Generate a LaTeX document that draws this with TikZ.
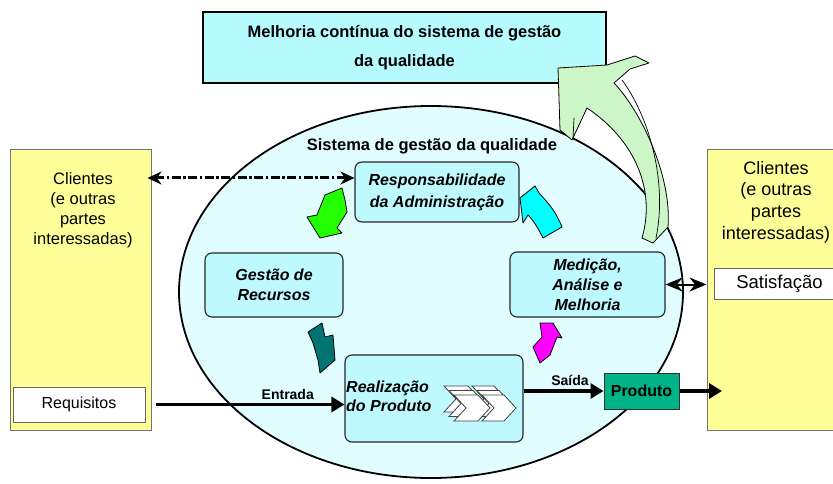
\documentclass[tikz,border=0pt]{standalone}
\usepackage{fontspec}
\setmainfont{Liberation Sans}
\usetikzlibrary{arrows.meta,shapes.geometric}
\definecolor{topcyan}{HTML}{B6FCFF}
\definecolor{ellcyan}{HTML}{E2FDFF}
\definecolor{boxcyan}{HTML}{BDF9FF}
\definecolor{yel}{HTML}{FFFF99}
\definecolor{prodgreen}{HTML}{00B386}
\definecolor{bigarrow}{HTML}{CCF5C8}
\definecolor{agreen}{HTML}{22FF00}
\definecolor{acyan}{HTML}{00FFFF}
\definecolor{ateal}{HTML}{007373}
\definecolor{amag}{HTML}{FF00FF}
\newcommand\myfs[2]{\fontsize{#1}{#2}\selectfont}
\begin{document}
\begin{tikzpicture}[x=1pt,y=-1pt,
  rbox/.style={draw=black!85, line width=1.1pt, rounded corners=7pt, fill=boxcyan, inner sep=0pt, align=center, font=\myfs{16}{20}\bfseries\itshape},
  ybox/.style={draw=black!55, line width=1pt, fill=yel, inner sep=0pt},
  wbox/.style={draw=black!60, line width=1pt, fill=white, inner sep=0pt, font=\myfs{16}{19}},
  flow/.style={line width=3.5pt, -{Triangle[length=13pt,width=15pt]}},
  blockarrow/.style={draw=black, line width=0.8pt, line join=round},
  lbl/.style={font=\myfs{14}{16}\bfseries, inner sep=2pt}]
\clip (0,0) rectangle (833,484);
\fill[white] (0,0) rectangle (833,484);

% top box
\node[draw, line width=1.8pt, fill=topcyan, minimum width=403pt, minimum height=71pt, inner sep=0pt, align=center, font=\myfs{16.5}{29}\bfseries] (mel) at (404.5,47.5) {Melhoria contínua do sistema de gestão\\da qualidade};

% ellipse
\node[ellipse, draw, line width=1.8pt, fill=ellcyan, minimum width=504pt, minimum height=372pt, inner sep=0pt] (sgq) at (431,292) {};
\node[font=\myfs{16.5}{19}\bfseries, inner sep=0pt] (sgqt) at (432,146) {Sistema de gestão da qualidade};

% big light green arrow
\path[blockarrow, fill=bigarrow] (558,68) -- (607,65) -- (635,56) -- (649,63) -- (630,69) -- (614,83)
  .. controls (640,110) and (672,175) .. (668,227) -- (653,243) -- (642,238)
  .. controls (656,190) and (635,140) .. (587,108) -- (572,140) -- (560,130) -- cycle;
\draw[line width=0.7pt] (622,80) .. controls (648,115) and (668,180) .. (656,238);
\draw[line width=0.7pt] (574,118) -- (573,139);

% left clients
\node[ybox, minimum width=141pt, minimum height=280pt] (cl) at (80.5,290) {};
\node[font=\myfs{16.5}{20}, align=center, inner sep=0pt] (clt) at (83,210) {Clientes\\(e outras\\partes\\interessadas)};
\node[wbox, minimum width=132pt, minimum height=35pt] (req) at (79,404.5) {Requisitos};

% right clients
\node[ybox, minimum width=140pt, minimum height=280pt] (cr) at (777,290) {};
\node[font=\myfs{18}{21.7}, align=center, inner sep=0pt] (crt) at (776,202) {Clientes\\(e outras\\partes\\interessadas)};
\node[wbox, minimum width=131pt, minimum height=31pt, font=\myfs{18.5}{20}] (sat) at (779.5,283.5) {Satisfação};

% process boxes
\node[rbox, minimum width=164pt, minimum height=60pt, font=\myfs{16}{22}\bfseries\itshape] (resp) at (437,192) {Responsabilidade\\da Administração};
\node[rbox, minimum width=138pt, minimum height=64pt] (gest) at (274,285) {Gestão de\\Recursos};
\node[rbox, minimum width=155pt, minimum height=65pt] (med) at (587.5,284.5) {Medição,\\Análise e\\Melhoria};
\node[rbox, minimum width=178pt, minimum height=87pt] (real) at (434,398.5) {};
\node[anchor=west, align=left, inner sep=0pt, font=\myfs{16}{19}\bfseries\itshape] (realt) at (346,396) {Realização\\do Produto};
\node[draw=black!80, line width=1pt, fill=prodgreen, minimum width=75pt, minimum height=36pt, inner sep=0pt, font=\myfs{16}{19}\bfseries] (prod) at (641.5,391) {Produto};

% chevrons
\foreach \d in {0,5,10} {
  \begin{scope}[shift={(\d,0.9*\d)}]
    \draw[fill=white, draw=black!75, line width=0.8pt] (444,386) -- (468,386) -- (480,399) -- (468,412) -- (444,412) -- (456,399) -- cycle;
    \draw[fill=white, draw=black!75, line width=0.8pt] (472,386) -- (494,386) -- (506,399) -- (494,412) -- (472,412) -- (484,399) -- cycle;
  \end{scope}
}

% small curved arrows
\path[blockarrow, fill=agreen] (325,195) -- (342,188) -- (345,200) -- (347,212) -- (342,220) -- (337,228) -- (342,233) -- (320,238) -- (307,217) -- (317,215) -- cycle;
\path[blockarrow, fill=acyan] (535,186) -- (539,193) .. controls (550,205) and (556,212) .. (562,227) -- (543,238) .. controls (538,228) and (533,220) .. (528,215) -- (523,223) -- (520,198) -- cycle;
\path[blockarrow, fill=ateal] (308,332) -- (322,323) -- (325,337) -- (333,335) -- (335,360) -- (320,373) -- (318,360) -- (313,343) -- cycle;
\path[blockarrow, fill=amag] (540,323) -- (553,323) -- (562,338) -- (557,337) -- (550,355) -- (540,363) -- (533,347) -- (542,337) -- cycle;

% connectors
\draw[flow] ([xshift=10pt]req.east) -- (real.west |- req.east) node[lbl, pos=0.7, above=1.5pt] (ent) {Entrada};
\draw[flow] (real.east |- prod.west) -- (prod.west) node[lbl, pos=0.58, above=1.5pt] (sai) {Saída};
\coordinate (crin) at (722,391);
\draw[flow] (prod.east) -- (crin);
\draw[line width=3pt, dash pattern=on 9pt off 2.5pt on 2.5pt off 2.5pt, {Stealth[length=14pt,width=13pt]}-{Stealth[length=14pt,width=13pt]}, shorten >=-4pt] ([yshift=14pt]resp.west) -- ([yshift=14pt]resp.west -| cl.east);
\draw[line width=2pt, {Stealth[length=17pt,width=14pt]}-{Stealth[length=17pt,width=14pt]}] (med.east) -- (med.east -| cr.west);
\end{tikzpicture}
\end{document}
